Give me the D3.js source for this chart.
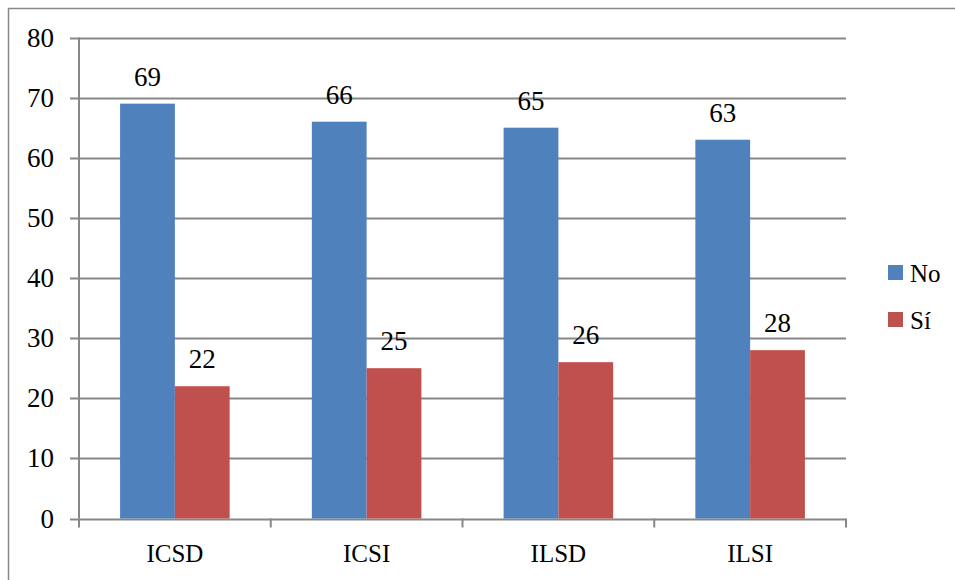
<!DOCTYPE html>
<html><head><meta charset="utf-8">
<script src="https://cdn.jsdelivr.net/npm/d3@7"></script>
<style>html,body{margin:0;padding:0;background:#fff;}</style>
</head><body>
<svg id="chart" width="955" height="580"></svg>
<script>
const categories = ["ICSD", "ICSI", "ILSD", "ILSI"];
const seriesNames = ["No", "Sí"];
const noValues = [69, 66, 65, 63];
const siValues = [22, 25, 26, 28];
const yTicks = [0, 10, 20, 30, 40, 50, 60, 70, 80];
const colors = ["#4F81BD", "#C0504D"];

(function () {
const svg = d3.select("#chart");
const font = "'Liberation Serif', 'Times New Roman', serif";
const plotLeft = 79, plotRight = 846, plotTop = 37.5, plotBottom = 518.5;

// outer chart border
svg.append("rect").attr("x", 8.5).attr("y", 8.5).attr("width", 1000).attr("height", 1000)
  .attr("fill", "none").attr("stroke", "#888").attr("stroke-width", 1.5);

const x = d3.scaleBand().domain(categories).range([plotLeft, plotRight]).paddingInner(0).paddingOuter(0);
const y = d3.scaleLinear().domain([0, 80]).range([plotBottom, plotTop]);
const xs = d3.scaleBand().domain(seriesNames).range([0, x.bandwidth()]).paddingInner(0).paddingOuter(0.75);

// gridlines
svg.append("g").selectAll("line").data(yTicks).join("line")
  .attr("x1", plotLeft - 9).attr("x2", plotRight)
  .attr("y1", d => Math.round(y(d)) + 0.5).attr("y2", d => Math.round(y(d)) + 0.5)
  .attr("stroke", "#878787").attr("stroke-width", 2);

// y axis line
svg.append("line").attr("x1", plotLeft).attr("x2", plotLeft).attr("y1", plotTop).attr("y2", plotBottom)
  .attr("stroke", "#878787").attr("stroke-width", 2);

// x tick marks
const xTickPos = categories.map(c => x(c)).concat([plotRight]);
svg.append("g").selectAll("line").data(xTickPos).join("line")
  .attr("x1", d => d).attr("x2", d => d).attr("y1", plotBottom).attr("y2", plotBottom + 9)
  .attr("stroke", "#878787").attr("stroke-width", 2);

// y labels
svg.append("g").selectAll("text").data(yTicks).join("text")
  .attr("x", 54).attr("y", d => y(d) + 9).attr("text-anchor", "end")
  .attr("font-family", font).attr("font-size", 27).attr("fill", "#000")
  .text(d => d);

// x labels
svg.append("g").selectAll("text").data(categories).join("text")
  .attr("x", d => x(d) + x.bandwidth() / 2).attr("y", 562)
  .attr("text-anchor", "middle").attr("font-family", font).attr("font-size", 25).attr("fill", "#000")
  .text(d => d);

const data = categories.map((c, i) => ({cat: c, vals: [noValues[i], siValues[i]]}));
const groups = svg.append("g").selectAll("g").data(data).join("g")
  .attr("transform", d => `translate(${x(d.cat)},0)`);

groups.selectAll("rect").data(d => d.vals.map((v, j) => ({s: seriesNames[j], v, j}))).join("rect")
  .attr("x", d => xs(d.s)).attr("width", xs.bandwidth())
  .attr("y", d => y(d.v)).attr("height", d => y(0) - y(d.v))
  .attr("fill", d => colors[d.j]);

groups.selectAll("text").data(d => d.vals.map((v, j) => ({s: seriesNames[j], v, j}))).join("text")
  .attr("x", d => xs(d.s) + xs.bandwidth() / 2).attr("y", d => y(d.v) - 18)
  .attr("text-anchor", "middle").attr("font-family", font).attr("font-size", 27).attr("fill", "#000")
  .text(d => d.v);

// legend
const legend = svg.append("g").selectAll("g").data(seriesNames).join("g")
  .attr("transform", (d, i) => `translate(888, ${265 + i * 47})`);
legend.append("rect").attr("width", 15).attr("height", 15).attr("fill", (d, i) => colors[i]);
legend.append("text").attr("x", 22).attr("y", 17)
  .attr("font-family", font).attr("font-size", 25).attr("fill", "#000").text(d => d);
})();
</script>
</body></html>
